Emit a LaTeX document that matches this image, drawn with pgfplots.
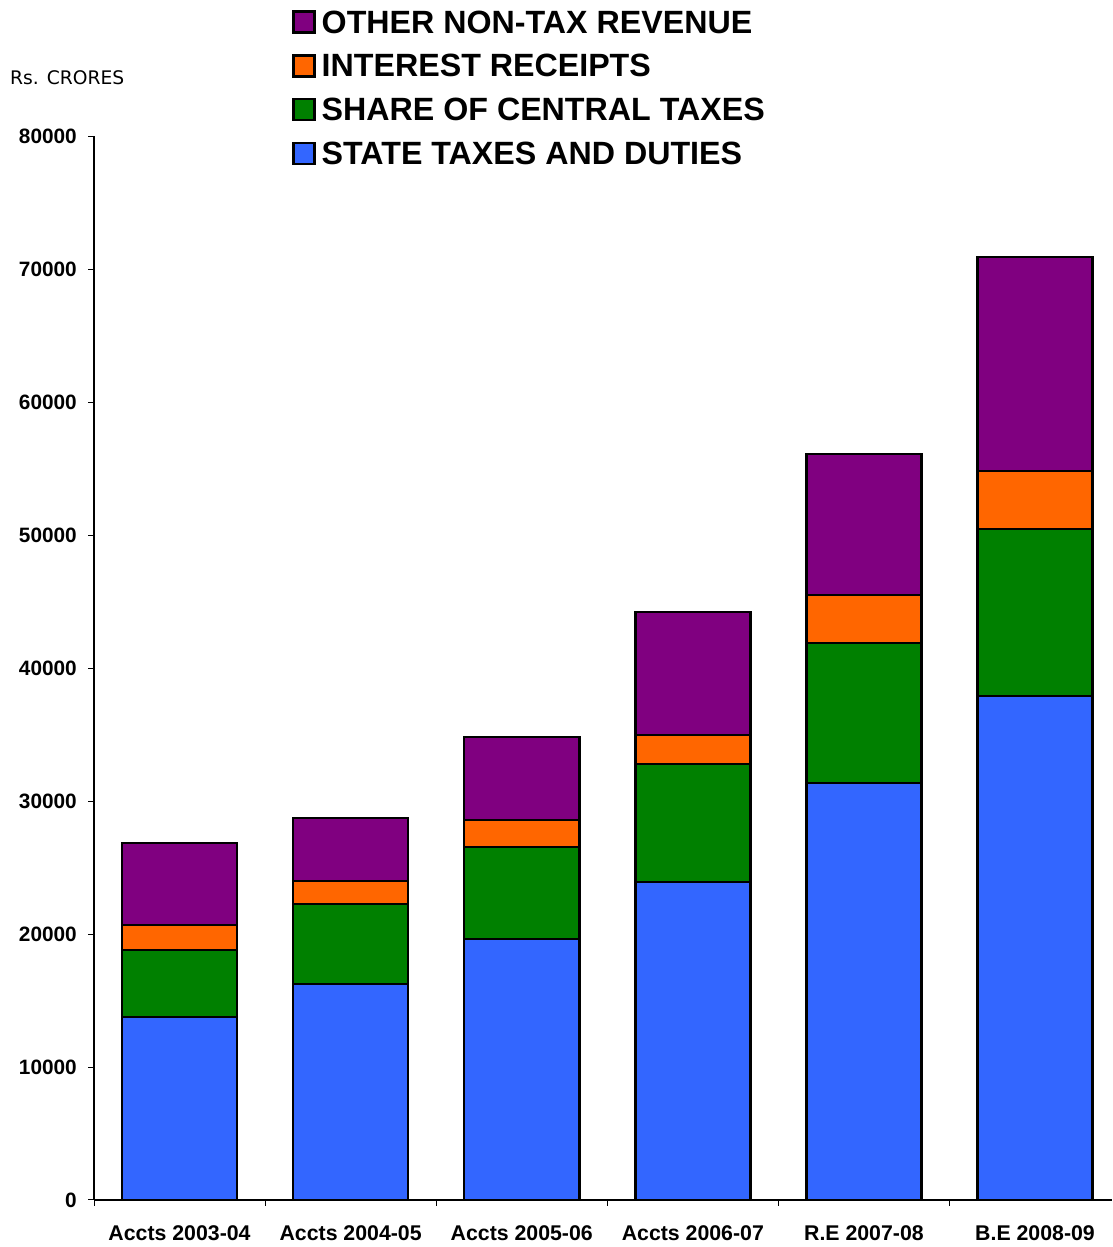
\documentclass[border=0pt]{standalone}
\usepackage{fontspec}
\setmainfont{Liberation Sans}
\newfontfamily\dejavu{DejaVu Sans}
\usepackage{pgfplots}
\pgfplotsset{compat=1.18}

\definecolor{stateblue}{HTML}{3366FF}
\definecolor{sharegreen}{HTML}{008000}
\definecolor{intorange}{HTML}{FF6600}
\definecolor{otherpurple}{HTML}{800080}

\pgfplotsset{
  sqlegend/.style={legend image code/.code={\draw[##1,line width=2.5pt] (0pt,-11pt) rectangle (21pt,10pt);}},
}

\begin{document}
\begin{tikzpicture}
\path[use as bounding box] (0pt,0pt) rectangle (1112pt,1247pt);
\node[anchor=west, inner sep=0pt, font=\dejavu\fontsize{18.7}{19}\selectfont] at (10pt,1169pt) {Rs. CRORES};
\begin{axis}[
    at={(94pt,47pt)}, anchor=south west,
    scale only axis,
    width=1018pt, height=1064pt,
    ybar stacked,
    bar width=115pt,
    xmin=-0.5, xmax=5.45,
    ymin=0, ymax=80000,
    enlargelimits=false,
    axis x line*=bottom,
    axis y line*=left,
    axis line style={line width=1.2pt, black, -},
    tick align=outside,
    major tick length=6pt,
    tick style={line width=1pt, black},
    xtick={-0.5,0.5,1.5,2.5,3.5,4.5},
    xticklabels={},
    extra x ticks={0,1,2,3,4,5},
    extra x tick labels={Accts 2003-04,Accts 2004-05,Accts 2005-06,Accts 2006-07,R.E 2007-08,B.E 2008-09},
    extra x tick style={tick style={draw=none}},
    xticklabel style={font=\bfseries\fontsize{21.3}{21}\selectfont, inner sep=0pt, yshift=-19pt},
    ytick={0,10000,20000,30000,40000,50000,60000,70000,80000},
    scaled y ticks=false,
    yticklabel style={font=\bfseries\fontsize{20.8}{20}\selectfont, inner sep=0pt, xshift=-11pt,
      /pgf/number format/1000 sep={}, /pgf/number format/assume math mode=true},
    legend style={at={(axis description cs:0.1945,1.1185)}, anchor=north west,
      draw=none, fill=none, inner sep=0pt,
      font=\bfseries\fontsize{32.2}{32}\selectfont,
      row sep=20pt,
      nodes={inner sep=0pt, text height=23pt, text depth=0pt},
      /tikz/every odd column/.append style={column sep=6pt}},
    legend cell align=left,
    reverse legend,
]
\addplot[fill=stateblue, draw=black, line width=2.5pt, sqlegend] coordinates {
  (0,13760) (1,16240) (2,19620) (3,23910) (4,31350) (5,37890)};
\addplot[fill=sharegreen, draw=black, line width=2.5pt, sqlegend] coordinates {
  (0,5040) (1,6020) (2,6920) (3,8870) (4,10530) (5,12560)};
\addplot[fill=intorange, draw=black, line width=2.5pt, sqlegend] coordinates {
  (0,1880) (1,1720) (2,2030) (3,2180) (4,3610) (5,4360)};
\addplot[fill=otherpurple, draw=black, line width=2.5pt, sqlegend] coordinates {
  (0,6160) (1,4740) (2,6240) (3,9250) (4,10600) (5,16090)};
\legend{STATE TAXES AND DUTIES,SHARE OF CENTRAL TAXES,INTEREST RECEIPTS,OTHER NON-TAX REVENUE}
\end{axis}
\end{tikzpicture}
\end{document}
